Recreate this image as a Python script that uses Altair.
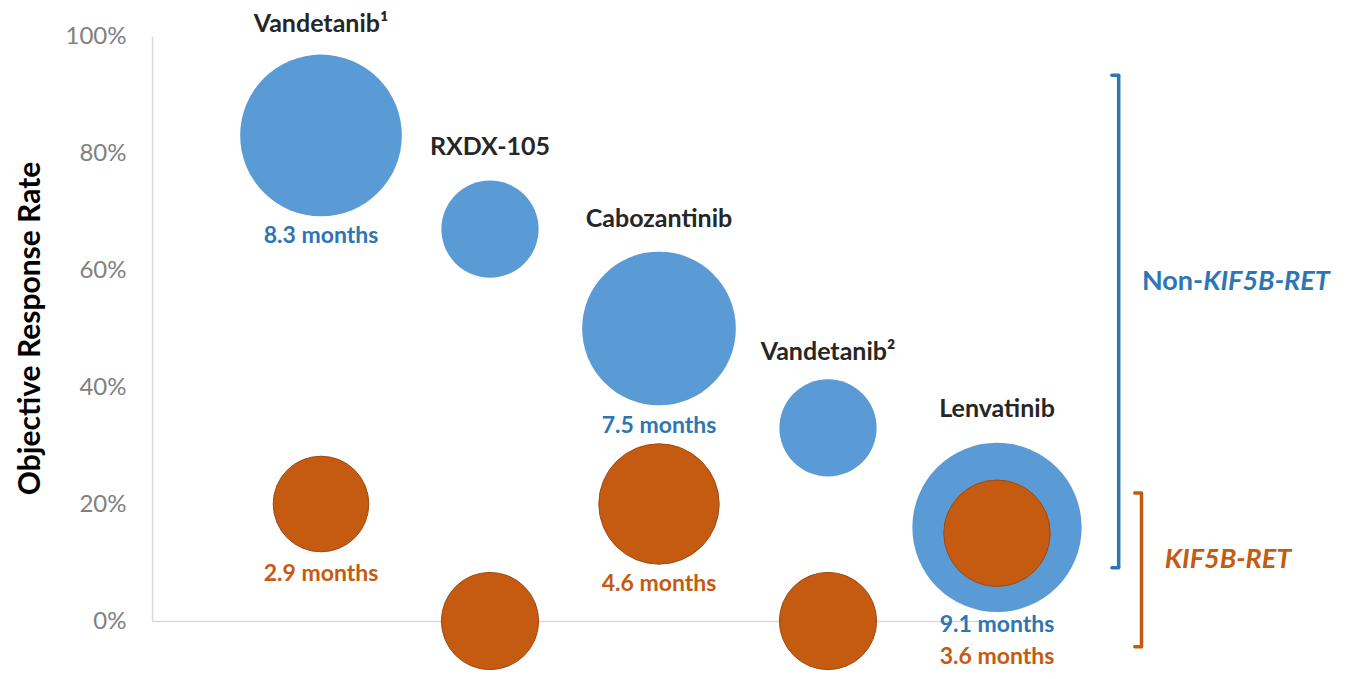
import altair as alt
import pandas as pd

# ---- data ----
drugs = ["Vandetanib¹", "RXDX-105", "Cabozantinib", "Vandetanib²", "Lenvatinib"]
drug_pos = [1, 2, 3, 4, 5]
orr_non_kif5b = [83, 67, 50, 33, 16]          # Objective response rate (%) – non-KIF5B-RET
orr_kif5b = [20, 0, 20, 0, 15]                # Objective response rate (%) – KIF5B-RET
bubble_non_kif5b = [8.3, 3.0, 7.5, 3.0, 9.1]  # bubble size (PFS months, est. where unlabeled)
bubble_kif5b = [2.9, 3.0, 4.6, 3.0, 3.6]
drug_label_y = [100.7, 79.7, 67.3, 44.7, 34.8]

pfs_non_text = ["8.3 months", "7.5 months", "9.1 months"]
pfs_non_pos = [1, 3, 5]
pfs_non_y = [64.6, 32.1, -1.9]
pfs_kif_text = ["2.9 months", "4.6 months", "3.6 months"]
pfs_kif_pos = [1, 3, 5]
pfs_kif_y = [6.8, 5.2, -7.4]

y_ticks = [0, 20, 40, 60, 80, 100]

bracket_names = ["Non-KIF5B-RET", "KIF5B-RET"]
bracket_x = [5.72, 5.855]
bracket_top = [93.3, 21.9]
bracket_bottom = [9.1, -4.4]

BLUE = "#5B9BD5"
BLUE_DARK = "#2E75B6"
ORANGE = "#C55A11"
FONT = "Lato"

bubbles_non = pd.DataFrame({"drug": drugs, "pos": drug_pos, "orr": orr_non_kif5b, "size": bubble_non_kif5b})
bubbles_kif = pd.DataFrame({"drug": drugs, "pos": drug_pos, "orr": orr_kif5b, "size": bubble_kif5b})
names_df = pd.DataFrame({"drug": drugs, "pos": drug_pos, "ly": drug_label_y})
pfs_non_df = pd.DataFrame({"t": pfs_non_text, "pos": pfs_non_pos, "ly": pfs_non_y})
pfs_kif_df = pd.DataFrame({"t": pfs_kif_text, "pos": pfs_kif_pos, "ly": pfs_kif_y})
br = pd.DataFrame({"name": bracket_names, "x": bracket_x, "top": bracket_top, "bottom": bracket_bottom})
br["xh"] = br["x"] - 0.04

xs = alt.Scale(domain=[0, 5], nice=False, zero=False)
ys = alt.Scale(domain=[0, 100], nice=False, zero=False)
ss = alt.Scale(domain=[0, 10], range=[0, 31500], zero=True)

x_axis = alt.Axis(labels=False, ticks=False, grid=False, title=None,
                  domainColor="#D9D9D9", domainWidth=1.5)
y_axis = alt.Axis(values=y_ticks, labelExpr="datum.value + '%'", ticks=False, grid=False,
                  domainColor="#D9D9D9", domainWidth=1.5,
                  labelFont=FONT, labelFontSize=24, labelColor="#808080", labelPadding=26,
                  title="Objective Response Rate", titleFont=FONT, titleFontSize=30,
                  titleFontWeight="bold", titleColor="#000000", titleAngle=-90,
                  titleX=-113, titleY=292, titleAlign="center", titleBaseline="alphabetic")

blue_layer = alt.Chart(bubbles_non).mark_circle(color=BLUE, opacity=1).encode(
    x=alt.X("pos:Q", scale=xs, axis=x_axis),
    y=alt.Y("orr:Q", scale=ys, axis=y_axis),
    size=alt.Size("size:Q", scale=ss, legend=None),
)
orange_layer = alt.Chart(bubbles_kif).mark_point(
    shape="circle", filled=True, fill=ORANGE, stroke="#9E4A14", strokeWidth=1, opacity=1
).encode(
    x=alt.X("pos:Q", scale=xs),
    y=alt.Y("orr:Q", scale=ys),
    size=alt.Size("size:Q", scale=ss, legend=None),
)

names = alt.Chart(names_df).mark_text(
    font=FONT, fontSize=25, fontWeight="bold", color="#262626", baseline="alphabetic", align="center"
).encode(x=alt.X("pos:Q", scale=xs), y=alt.Y("ly:Q", scale=ys), text="drug:N")

pfs_non = alt.Chart(pfs_non_df).mark_text(
    font=FONT, fontSize=23, fontWeight="bold", color=BLUE_DARK, baseline="alphabetic", align="center"
).encode(x=alt.X("pos:Q", scale=xs), y=alt.Y("ly:Q", scale=ys), text="t:N")

pfs_kif = alt.Chart(pfs_kif_df).mark_text(
    font=FONT, fontSize=23, fontWeight="bold", color=ORANGE, baseline="alphabetic", align="center"
).encode(x=alt.X("pos:Q", scale=xs), y=alt.Y("ly:Q", scale=ys), text="t:N")

br_color = alt.Color("name:N", scale=alt.Scale(domain=bracket_names, range=[BLUE_DARK, ORANGE]), legend=None)
br_vert = alt.Chart(br).mark_rule(strokeWidth=3.5).encode(
    x=alt.X("x:Q", scale=xs), y=alt.Y("top:Q", scale=ys), y2="bottom:Q", color=br_color)
br_top = alt.Chart(br).mark_rule(strokeWidth=3.5, strokeCap="round").encode(
    x=alt.X("xh:Q", scale=xs), x2="x:Q", y=alt.Y("top:Q", scale=ys), color=br_color)
br_bot = alt.Chart(br).mark_rule(strokeWidth=3.5, strokeCap="round").encode(
    x=alt.X("xh:Q", scale=xs), x2="x:Q", y=alt.Y("bottom:Q", scale=ys), color=br_color)

grp_text = pd.DataFrame({"t": ["Non-"], "x": [6.22], "y": [56.5]})
grp_text2 = pd.DataFrame({"t": ["KIF5B-RET"], "x": [6.22], "y": [56.5]})
grp_text3 = pd.DataFrame({"t": ["KIF5B-RET"], "x": [6.367], "y": [9.06]})

g1 = alt.Chart(grp_text).mark_text(font=FONT, fontSize=27, fontWeight="bold", color=BLUE_DARK,
                                   align="right", baseline="alphabetic").encode(
    x=alt.X("x:Q", scale=xs), y=alt.Y("y:Q", scale=ys), text="t:N")
g2 = alt.Chart(grp_text2).mark_text(font=FONT, fontSize=27, fontWeight="bold", fontStyle="italic",
                                    color=BLUE_DARK, align="left", baseline="alphabetic").encode(
    x=alt.X("x:Q", scale=xs), y=alt.Y("y:Q", scale=ys), text="t:N")
g3 = alt.Chart(grp_text3).mark_text(font=FONT, fontSize=27, fontWeight="bold", fontStyle="italic",
                                    color=ORANGE, align="center", baseline="alphabetic").encode(
    x=alt.X("x:Q", scale=xs), y=alt.Y("y:Q", scale=ys), text="t:N")

chart = alt.layer(
    blue_layer, orange_layer, names, pfs_non, pfs_kif, br_vert, br_top, br_bot, g1, g2, g3
).properties(
    width=845, height=585,
    autosize=alt.AutoSizeParams(type="none"),
    padding={"left": 144, "top": 28, "right": 346, "bottom": 50},
    background="white",
).configure_view(stroke=None)

chart.save("out.html", embed_options={"renderer": "svg", "actions": False})
